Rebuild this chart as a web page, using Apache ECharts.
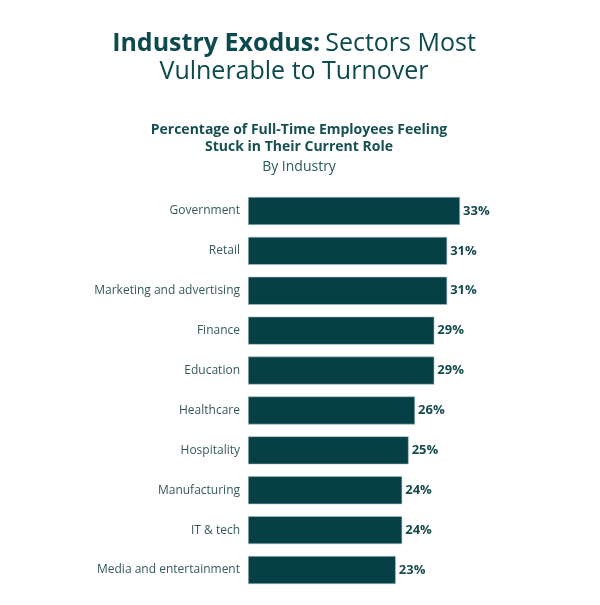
<!DOCTYPE html>
<html><head><meta charset="utf-8">
<script src="https://cdn.jsdelivr.net/npm/echarts@6/dist/echarts.min.js"></script>
<style>html,body{margin:0;padding:0;background:#fff}#c{width:600px;height:605px}</style>
</head><body><div id="c"></div>
<script>
const categories = ["Government","Retail","Marketing and advertising","Finance","Education","Healthcare","Hospitality","Manufacturing","IT & tech","Media and entertainment"];
const values = [33,31,31,29,29,26,25,24,24,23];

const chart = echarts.init(document.getElementById('c'));
const font = '"Open Sans", Lato, sans-serif';
chart.setOption({
  backgroundColor: '#ffffff',
  animation: false,
  title: [{
    left: 289, top: 25, textAlign: 'center',
    text: '{b|Industry Exodus:} {r|Sectors Most}\n{r|Vulnerable to Turnover}',
    textStyle: {
      rich: {
        b: {fontFamily: font, fontSize: 25, fontWeight: 'bold', color: '#0c4a4f', lineHeight: 28},
        r: {fontFamily: font, fontSize: 25, fontWeight: 'normal', color: '#0c4a4f', lineHeight: 28}
      }
    }
  }, {
    left: 294, top: 117, textAlign: 'center',
    text: '{b|Percentage of Full-Time Employees Feeling}\n{b|Stuck in Their Current Role}\n{r|By Industry}',
    textStyle: {
      rich: {
        b: {fontFamily: font, fontSize: 14, fontWeight: 'bold', color: '#164f52', lineHeight: 17},
        r: {fontFamily: font, fontSize: 14, fontWeight: 'normal', color: '#2c5a5c', lineHeight: 23}
      }
    }
  }],
  grid: {left: 248, right: 95, top: 191, bottom: 15, containLabel: false},
  xAxis: {type: 'value', min: 0, max: 40, show: false},
  yAxis: {
    type: 'category', data: categories, inverse: true,
    axisLine: {show: false}, axisTick: {show: false},
    axisLabel: {color: '#35595b', fontSize: 12, fontFamily: font, margin: 8}
  },
  series: [{
    type: 'bar', data: values, barWidth: 28,
    itemStyle: {color: '#073f47', borderColor: '#a9c3c4', borderWidth: 0.6},
    label: {show: true, position: 'right', distance: 3, formatter: '{c}%',
      fontFamily: font, fontWeight: 'bold', fontSize: 13, color: '#164a4e'}
  }]
});
</script></body></html>
